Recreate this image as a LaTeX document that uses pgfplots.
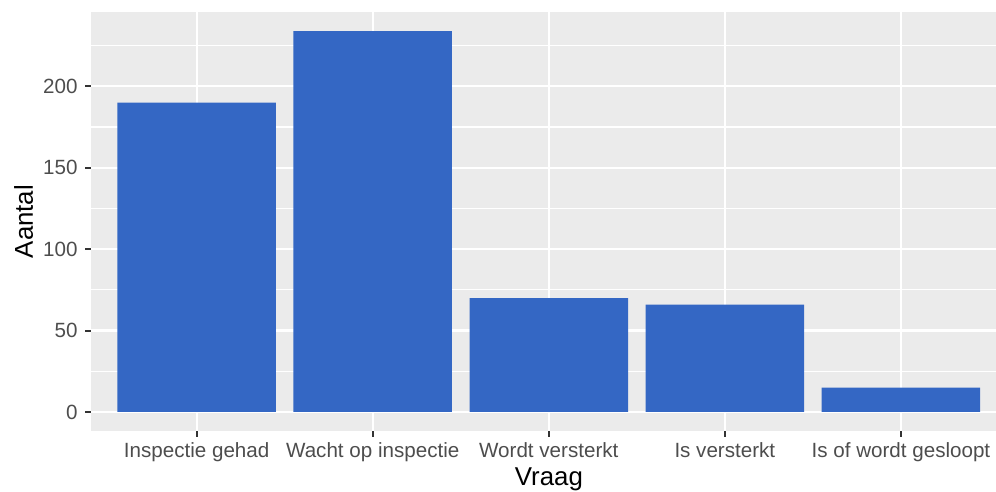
\documentclass[border=0pt]{standalone}
\usepackage{fontspec}
\setmainfont{Liberation Sans}
\usepackage{pgfplots}
\pgfplotsset{compat=1.18}
\definecolor{barcol}{RGB}{52,103,196}
\definecolor{panelbg}{RGB}{235,235,235}
\definecolor{ticklab}{RGB}{77,77,77}
\definecolor{tickcol}{RGB}{51,51,51}
\begin{document}
\begin{tikzpicture}
\useasboundingbox (0,0) rectangle (498pt,246pt);
\begin{axis}[
  at={(45.5pt,30.5pt)}, anchor=south west,
  scale only axis, width=452.5pt, height=209.5pt,
  xmin=-0.6, xmax=4.54, ymin=-11.7, ymax=245.7,
  enlargelimits=false,
  axis line style={draw=none},
  axis background/.style={fill=panelbg},
  ybar, bar width=0.9,
  xtick={0,1,2,3,4},
  xticklabels={Inspectie gehad,Wacht op inspectie,Wordt versterkt,Is versterkt,Is of wordt gesloopt},
  ytick={0,50,100,150,200},
  minor ytick={25,75,125,175,225},
  xtick pos=left, ytick pos=left,
  tick align=outside,
  major tick length=3pt, minor tick length=0pt,
  tick style={color=tickcol, line width=1pt},
  grid=both,
  major grid style={white, line width=1.1pt},
  minor grid style={white, line width=0.6pt},
  /pgf/number format/assume math mode=true,
  ticklabel style={font=\fontsize{10.3pt}{12pt}\selectfont, text=ticklab, inner sep=0pt},
  yticklabel style={anchor=east},
  xticklabel style={anchor=base},
  yticklabel shift=3.5pt,
  xticklabel shift=10.5pt,
  xlabel={Vraag}, ylabel={Aantal},
  every axis x label/.style={at={(axis description cs:0.506,-0.1312)}, anchor=base, font=\fontsize{12.9pt}{15pt}\selectfont, inner sep=0pt},
  every axis y label/.style={at={(axis description cs:-0.0641,0.5)}, rotate=90, anchor=base, font=\fontsize{12.9pt}{15pt}\selectfont, inner sep=0pt},
]
\addplot[fill=barcol, draw=none] coordinates {(0,190) (1,234) (2,70) (3,66) (4,15)};
\end{axis}
\end{tikzpicture}
\end{document}
